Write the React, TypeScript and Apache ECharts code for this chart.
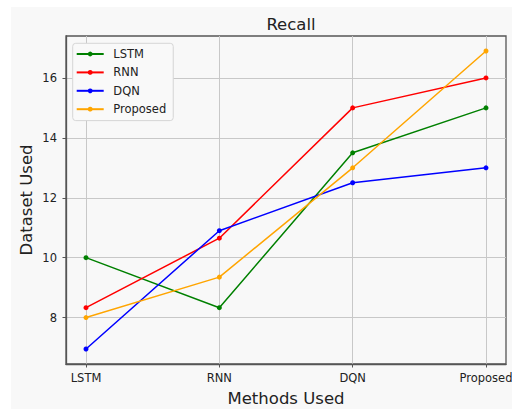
import React, { useEffect, useRef } from "react";
import * as echarts from "echarts";

const categories = ["LSTM", "RNN", "DQN", "Proposed"];
const lstmValues = [10.0, 8.33, 13.5, 15.0];
const rnnValues = [8.33, 10.65, 15.0, 16.0];
const dqnValues = [6.95, 10.9, 12.5, 13.0];
const proposedValues = [8.0, 9.35, 13.0, 16.9];
const yTicks = [8, 10, 12, 14, 16];
const xTicks = [0, 1, 2, 3];

const seriesDefs = [
  { name: "LSTM", data: lstmValues, color: "#008000" },
  { name: "RNN", data: rnnValues, color: "#ff0000" },
  { name: "DQN", data: dqnValues, color: "#0000ff" },
  { name: "Proposed", data: proposedValues, color: "#ffa500" },
];

const FONT = "DejaVu Sans";

export default function App() {
  const ref = useRef<HTMLDivElement>(null);
  useEffect(() => {
    if (!ref.current) return;
    const chart = echarts.init(ref.current, undefined, { renderer: "svg" });
    chart.setOption({
      animation: false,
      backgroundColor: "transparent",
      textStyle: { fontFamily: FONT },
      title: {
        text: "Recall",
        left: 286,
        top: 11,
        textAlign: "center",
        textStyle: { fontFamily: FONT, fontSize: 16.5, fontWeight: "normal", color: "#222" },
      },
      grid: {
        left: 66,
        top: 36,
        width: 440,
        height: 328,
        outerBoundsMode: "none",
        containLabel: false,
        show: true,
        borderColor: "#555",
        borderWidth: 1.3,
        backgroundColor: "#f8f8f8",
      },
      legend: {
        orient: "vertical",
        left: 72.7,
        top: 43.3,
        padding: [3.7, 7, 4.4, 3],
        itemWidth: 27,
        itemHeight: 6,
        itemGap: 4.4,
        backgroundColor: "#f9f9f9",
        borderColor: "#d6d6d6",
        borderWidth: 1,
        borderRadius: 3,
        textStyle: { fontFamily: FONT, fontSize: 11.5, color: "#222", padding: [0, 0, 0, 4.6], lineHeight: 14 },
        data: seriesDefs.map((s) => s.name),
      },
      xAxis: {
        type: "value",
        min: -0.15,
        max: 3.15,
        name: "Methods Used",
        nameLocation: "middle",
        nameGap: 26,
        nameMoveOverlap: false,
        nameTextStyle: { fontFamily: FONT, fontSize: 16.5, color: "#222" },
        axisLine: { show: true, onZero: false, lineStyle: { color: "#555", width: 1.3 } },
        axisTick: { show: true, customValues: xTicks, length: 3.5, lineStyle: { color: "#555" } },
        axisLabel: {
          customValues: xTicks,
          margin: 8,
          fontFamily: FONT,
          fontSize: 11.5,
          color: "#222",
          formatter: (v: number) => categories[Math.round(v)] ?? "",
        },
        splitLine: { show: true, lineStyle: { color: "#c8c8c8", width: 1 } },
      },
      yAxis: {
        type: "value",
        min: 6.45,
        max: 17.4,
        name: "Dataset Used",
        nameLocation: "middle",
        nameGap: 31,
        nameMoveOverlap: false,
        nameTextStyle: { fontFamily: FONT, fontSize: 16.5, color: "#222" },
        axisLine: { show: true, onZero: false, lineStyle: { color: "#555", width: 1.3 } },
        axisTick: { show: true, customValues: yTicks, length: 3.5, lineStyle: { color: "#555" } },
        axisLabel: {
          customValues: yTicks,
          margin: 9,
          fontFamily: FONT,
          fontSize: 11.5,
          color: "#222",
        },
        splitLine: { show: true, lineStyle: { color: "#c8c8c8", width: 1 } },
      },
      series: seriesDefs.map((s) => ({
        name: s.name,
        type: "line",
        data: s.data.map((v, i) => [i, v]),
        color: s.color,
        symbol: "circle",
        symbolSize: 5,
        showSymbol: true,
        lineStyle: { width: 1.5, color: s.color },
        itemStyle: { color: s.color },
      })),
    });
    return () => chart.dispose();
  }, []);

  return (
    <div style={{ position: "fixed", left: 0, top: 0, width: 512, height: 409, background: "#fff" }}>
      <div style={{ position: "absolute", left: 11, top: 7, right: 0, bottom: 0, background: "#f8f8f8" }} />
      <div ref={ref} style={{ position: "absolute", left: 0, top: 0, width: 512, height: 409 }} />
    </div>
  );
}
